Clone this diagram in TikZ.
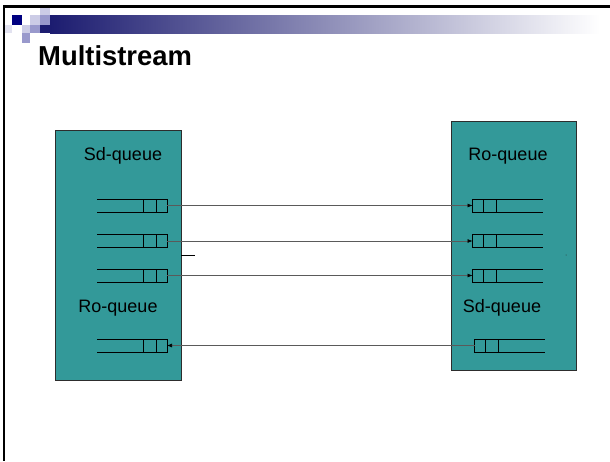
\documentclass[tikz,border=0pt]{standalone}
\usepackage{fontspec}
\setmainfont{Liberation Sans}
\usetikzlibrary{arrows.meta}

\definecolor{slideteal}{RGB}{51,153,153}
\definecolor{slidenavy}{RGB}{0,0,128}
\definecolor{barnavy}{RGB}{28,28,112}
\definecolor{sqlight}{RGB}{204,204,230}
\definecolor{sqmid}{RGB}{153,153,204}
\definecolor{sqpale}{RGB}{226,226,240}
\definecolor{boxedge}{RGB}{45,45,45}
\definecolor{linkgray}{RGB}{90,90,90}

\begin{document}
\begin{tikzpicture}[x=1pt, y=-1pt,
        hostbox/.style={draw=boxedge, line width=0.8pt, fill=slideteal, minimum width=126pt, minimum height=250pt, inner sep=0pt},
        qlabel/.style={font=\fontsize{18}{20}\selectfont, inner sep=0pt},
        queue/.style={minimum width=70pt, minimum height=13pt, inner sep=0pt, outer sep=0pt},
        qline/.style={line width=1pt, black},
        link/.style={draw=linkgray, line width=0.6pt, -{Latex[length=5pt, width=4pt, color=black]}}]
            \useasboundingbox (0,0) rectangle (610,461);
            \fill[white] (0,0) rectangle (610,461);
            \draw[line width=2.5pt] (4,6.5) -- (610,6.5);
            \draw[line width=2.5pt] (4,5.25) -- (4,461);
            \shade[left color=barnavy, right color=white] (50,15) rectangle (600,33);
            \fill[sqlight] (40,8) rectangle (50,15);
            \fill[slidenavy] (12,15) rectangle (22,25);
            \fill[sqlight] (30,15) rectangle (40,25);
            \fill[sqmid] (40,15) rectangle (50,25);
            \fill[sqpale] (5.25,25) rectangle (12,33);
            \fill[sqlight] (22,25) rectangle (30,33);
            \fill[sqmid] (30,25) rectangle (40,33);
            \fill[barnavy] (40,25) rectangle (50,33);
            \fill[sqmid] (22,33) rectangle (30,43);
            \node[anchor=base west, inner sep=0pt, font=\bfseries\fontsize{27.4}{30}\selectfont] (title) at (38,65) {Multistream};

            \node[hostbox] (sender) at (118,255) {};
            \node[hostbox, minimum width=125pt, minimum height=249pt] (receiver) at (513.5,245.5) {};
            \node[qlabel] (sdleft) at (123,156) {Sd-queue};
            \node[qlabel] (roright) at (508,156) {Ro-queue};
            \node[qlabel] (roleft) at (118,308) {Ro-queue};
            \node[qlabel] (sdright) at (502,308) {Sd-queue};

            \node[queue] (s1) at (132,205.5) {};
            \node[queue] (s2) at (132,241) {};
            \node[queue] (s3) at (132,275.5) {};
            \node[queue] (s4) at (132,345.5) {};
            \node[queue] (r1) at (507.5,205.5) {};
            \node[queue] (r2) at (507.5,241) {};
            \node[queue] (r3) at (507.5,275.5) {};
            \node[queue] (r4) at (509.5,345.5) {};
            \foreach \q in {s1,s2,s3,s4} {
                \draw[qline] (\q.north west) -- (\q.north east) -- (\q.south east) -- (\q.south west);
                \draw[qline] ([xshift=-11pt]\q.north east) -- ([xshift=-11pt]\q.south east);
                \draw[qline] ([xshift=-24pt]\q.north east) -- ([xshift=-24pt]\q.south east);
            }
            \foreach \q in {r1,r2,r3,r4} {
                \draw[qline] (\q.north east) -- (\q.north west) -- (\q.south west) -- (\q.south east);
                \draw[qline] ([xshift=11pt]\q.north west) -- ([xshift=11pt]\q.south west);
                \draw[qline] ([xshift=24pt]\q.north west) -- ([xshift=24pt]\q.south west);
            }

            \draw[link] (s1.east) -- (r1.west);
            \draw[link] (s2.east) -- (r2.west);
            \draw[link] (s3.east) -- (r3.west);
            \draw[link] (r4.west) -- (s4.east);

            \coordinate (tickA) at (181,255);
            \coordinate (tickB) at (195,255);
            \draw[line width=0.8pt] (tickA) -- (tickB);
            \coordinate (speck) at (566,255);
            \fill[boxedge] (speck) circle (0.5pt);
\end{tikzpicture}
\end{document}
